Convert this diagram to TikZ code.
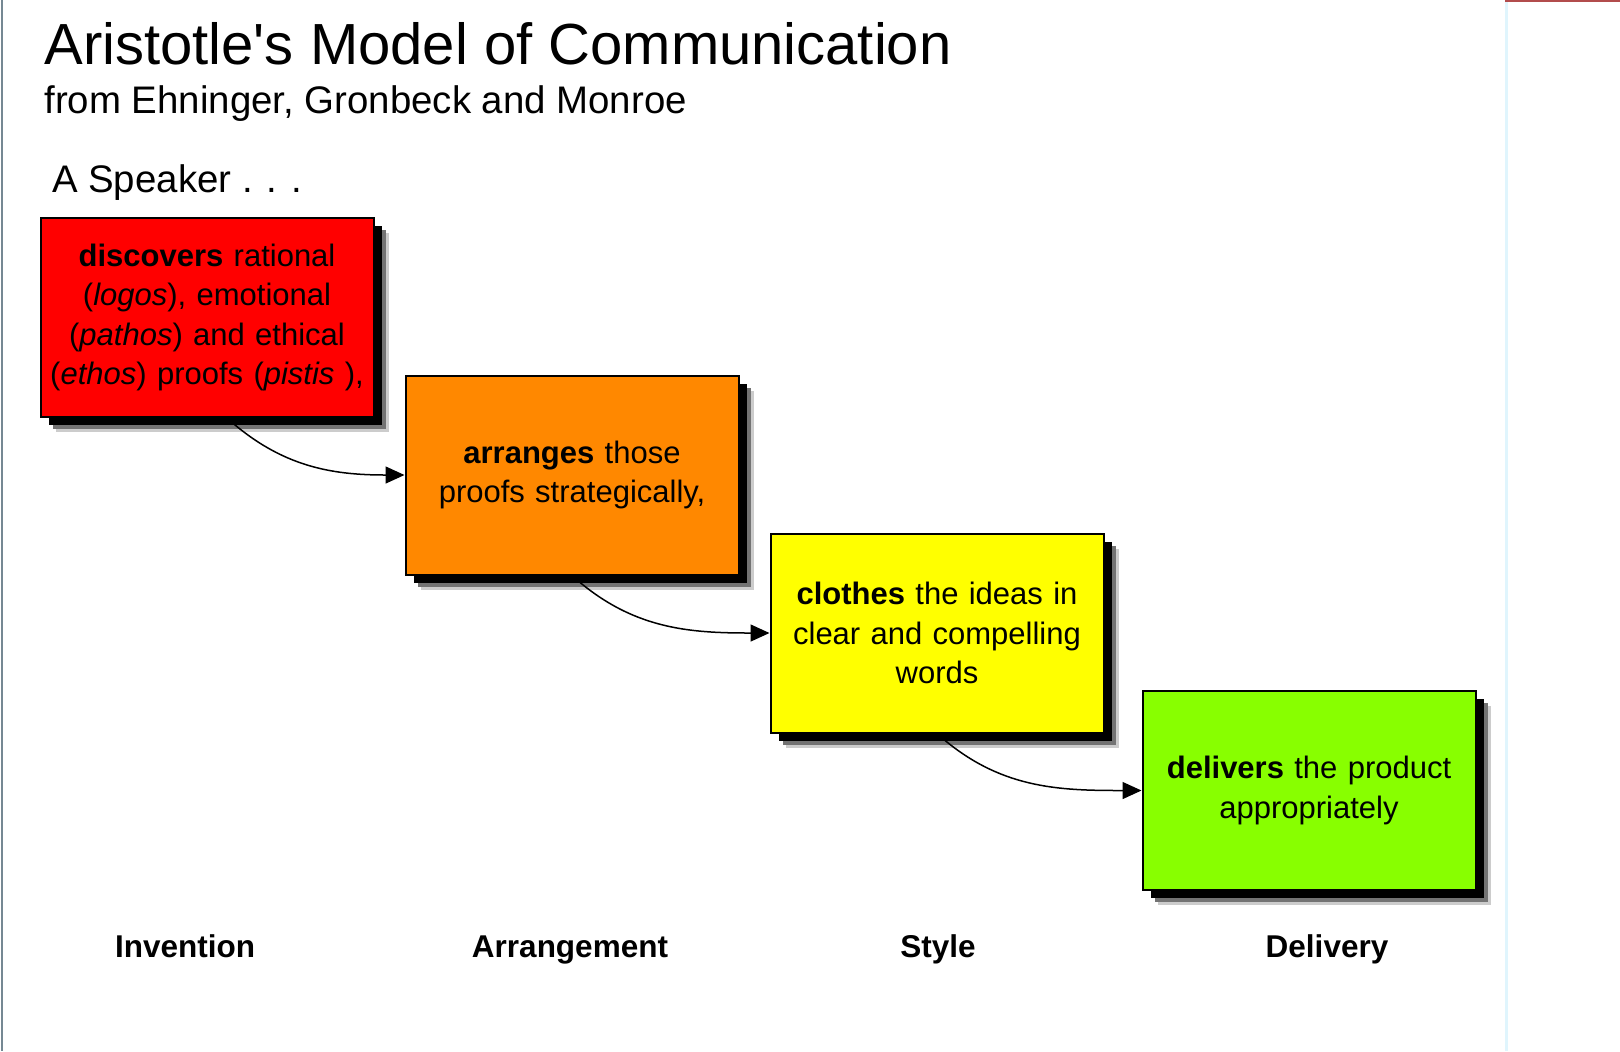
\documentclass[tikz,border=0pt]{standalone}
\usepackage{fontspec}
\setmainfont{Liberation Sans}
\usetikzlibrary{arrows.meta}
\definecolor{boxred}{HTML}{FF0000}
\definecolor{boxorange}{HTML}{FF8800}
\definecolor{boxyellow}{HTML}{FFFF00}
\definecolor{boxgreen}{HTML}{88FF00}
\tikzset{
  stepbox/.style={draw=black,line width=1pt,minimum width=166.5pt,minimum height=99.5pt,
    text width=160pt,align=center,inner sep=0pt,
    font=\fontsize{15.5pt}{19.75pt}\selectfont,
    preaction={fill=black!20,transform canvas={shift={(7.5pt,-7.5pt)}}},
    preaction={fill=black!55,transform canvas={shift={(6pt,-6pt)}}},
    preaction={fill=black,transform canvas={shift={(4pt,-4pt)}}}},
  link/.style={line width=.75pt,-{Triangle[length=9.5pt,width=8.5pt]}},
  stage/.style={anchor=base,inner sep=0pt,font=\fontsize{15.75pt}{18pt}\selectfont\bfseries},
}
\begin{document}
\begin{tikzpicture}[x=.5pt,y=-.5pt]
  \fill[white] (0,0) rectangle (1620,1051);
  \useasboundingbox (0,0) rectangle (1620,1051);
  \fill[black!45!cyan!40!gray] (1,0) rectangle (3,1051);
  \fill[cyan!12] (1505,1) rectangle (1508,1051);
  \fill[red!40!gray] (1505,0) rectangle (1620,1.5);
  \node[anchor=base west,inner sep=0pt,font=\fontsize{29pt}{34pt}\selectfont] (title) at (44,64) {Aristotle\textquotesingle s Model of Communication};
  \node[anchor=base west,inner sep=0pt,font=\fontsize{19.2pt}{23pt}\selectfont] (source) at (44,113.6) {from Ehninger, Gronbeck and Monroe};
  \node[anchor=base west,inner sep=0pt,font=\fontsize{19.2pt}{23pt}\selectfont] (speaker) at (51.7,192) {A Speaker . . .};
  \node[stepbox,fill=boxred] (invent) at (207,317.5) {\textbf{discovers} rational\\(\textit{logos}), emotional\\(\textit{pathos}) and ethical\\(\textit{ethos}) proofs (\textit{pistis} ),};
  \node[stepbox,fill=boxorange] (arrange) at (572,475) {\textbf{arranges} those\\proofs strategically,};
  \node[stepbox,fill=boxyellow] (style) at (937,633) {\textbf{clothes} the ideas in\\clear and compelling\\words};
  \node[stepbox,fill=boxgreen] (deliver) at (1309,790.5) {\textbf{delivers} the product\\appropriately};
  \draw[link] ([xshift=10pt]invent.south) to[out=-42,in=180] (arrange.west);
  \draw[link] (arrange.south) to[out=-42,in=180] (style.west);
  \draw[link] (style.south) to[out=-42,in=180] (deliver.west);
  \node[stage] (inventlbl) at (185,957) {Invention};
  \node[stage] (arrangelbl) at (570,957) {Arrangement};
  \node[stage] (stylelbl) at (938,957) {Style};
  \node[stage] (deliverlbl) at (1327,957) {Delivery};
\end{tikzpicture}
\end{document}
